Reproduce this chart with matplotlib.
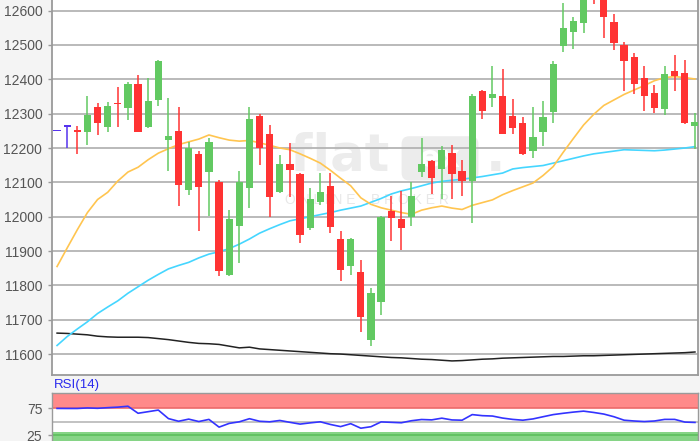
import numpy as np
import matplotlib
matplotlib.use("Agg")
import matplotlib.pyplot as plt

plt.rcParams["font.family"] = ["Liberation Sans", "DejaVu Sans"]

# --- data (one entry per daily candle) ---
opens = [12249, 12262, 12250, 12248, 12318, 12260, 12332, 12316, 12386, 12260,
         12340, 12222, 12250, 12078, 12183, 12129, 12101, 11830, 11974, 12083,
         12294, 12240, 12071, 12153, 12124, 11967, 12044, 12088, 11935, 11857,
         11839, 11642, 11753, 12017, 11993, 12000, 12129, 12163, 12139, 12185,
         12134, 12105, 12367, 12347, 12352, 12292, 12274, 12190, 12248, 12304,
         12497, 12539, 12565, 12700, 12650, 12568, 12500, 12464, 12405, 12360,
         12313, 12425, 12418, 12265]
highs = [12249, 12268, 12265, 12352, 12332, 12334, 12379, 12393, 12412, 12405,
         12456, 12345, 12319, 12217, 12190, 12229, 12107, 12020, 12132, 12319,
         12299, 12268, 12180, 12214, 12127, 12085, 12127, 12127, 11957, 11938,
         11875, 11792, 12001, 12059, 12076, 12100, 12229, 12165, 12206, 12209,
         12164, 12358, 12368, 12439, 12430, 12342, 12290, 12319, 12337, 12452,
         12623, 12581, 12660, 12720, 12670, 12590, 12510, 12478, 12439, 12384,
         12439, 12471, 12455, 12301]
lows = [12249, 12200, 12183, 12210, 12237, 12248, 12262, 12282, 12246, 12257,
        12322, 12134, 12030, 12064, 11959, 12003, 11826, 11826, 11865, 12025,
        12151, 11998, 12069, 12057, 11923, 11962, 12035, 11952, 11812, 11831,
        11663, 11622, 11715, 11928, 11902, 11972, 12117, 12067, 12051, 12052,
        12059, 11983, 12284, 12319, 12240, 12240, 12180, 12172, 12207, 12274,
        12481, 12489, 12534, 12620, 12520, 12486, 12366, 12358, 12309, 12303,
        12297, 12366, 12270, 12197]
closes = [12249, 12262, 12247, 12296, 12274, 12323, 12328, 12386, 12248, 12337,
          12454, 12236, 12093, 12201, 12086, 12217, 11841, 11994, 12102, 12284,
          12200, 12056, 12153, 12135, 11947, 12051, 12072, 11970, 11846, 11935,
          11707, 11778, 11999, 11996, 11967, 12061, 12153, 12112, 12193, 12124,
          12103, 12350, 12309, 12358, 12241, 12257, 12183, 12232, 12290, 12444,
          12549, 12571, 12645, 12660, 12582, 12505, 12454, 12386, 12352, 12316,
          12416, 12410, 12274, 12277]

ma_fast = [11855, 11909, 11962, 12012, 12050, 12071, 12104, 12130, 12144, 12166,
           12185, 12198, 12210, 12218, 12226, 12238, 12230, 12223, 12220, 12222,
           12215, 12208, 12200, 12195, 12183, 12170, 12156, 12135, 12112, 12090,
           12055, 12036, 12026, 12019, 12012, 12007, 12019, 12026, 12031, 12025,
           12021, 12033, 12041, 12049, 12064, 12076, 12087, 12098, 12120, 12146,
           12188, 12228, 12267, 12298, 12324, 12340, 12356, 12369, 12382, 12396,
           12405, 12408, 12405, 12401]
ma_mid = [11625, 11651, 11673, 11694, 11718, 11737, 11755, 11777, 11796, 11815,
          11832, 11848, 11858, 11867, 11880, 11891, 11898, 11907, 11920, 11935,
          11952, 11965, 11977, 11988, 11994, 12000, 12006, 12012, 12019, 12025,
          12031, 12042, 12053, 12066, 12075, 12082, 12090, 12098, 12103, 12106,
          12109, 12113, 12117, 12122, 12127, 12139, 12143, 12146, 12149, 12156,
          12163, 12170, 12177, 12183, 12187, 12191, 12195, 12194, 12193, 12192,
          12194, 12197, 12200, 12204]
ma_slow = [11661, 11660, 11658, 11656, 11652, 11650, 11649, 11649, 11649, 11648,
           11645, 11642, 11638, 11634, 11631, 11630, 11628, 11623, 11618, 11620,
           11615, 11613, 11611, 11609, 11607, 11605, 11603, 11601, 11600, 11598,
           11596, 11594, 11592, 11590, 11589, 11587, 11585, 11584, 11582, 11580,
           11581, 11583, 11585, 11586, 11588, 11589, 11590, 11591, 11592, 11593,
           11593, 11594, 11595, 11595, 11596, 11597, 11598, 11599, 11600, 11601,
           11602, 11603, 11604, 11606]

rsi = [75.1, 75.0, 75.0, 76.0, 75.3, 76.5, 77.5, 79.2, 66.0, 69.0,
       72.0, 56.0, 51.0, 55.0, 50.5, 54.5, 40.0, 47.0, 50.0, 55.8,
       51.0, 50.0, 52.5, 49.0, 45.7, 48.0, 50.0, 45.0, 41.0, 46.5,
       38.0, 40.8, 49.8, 49.0, 48.2, 52.0, 54.3, 53.6, 56.8, 53.5,
       53.0, 63.5, 61.5, 60.8, 57.0, 54.5, 53.0, 55.4, 59.5, 63.5,
       66.0, 68.2, 70.0, 67.5, 64.5, 59.5, 53.0, 51.5, 50.5, 51.5,
       54.5, 54.5, 49.5, 48.8]

price_ticks = [11600, 11700, 11800, 11900, 12000, 12100, 12200, 12300, 12400, 12500, 12600]
rsi_ticks = [25, 75]

GREEN = "#62c962"
RED = "#ff3333"
DOJI = "#5533ee"
GRID = "#b4b4b4"
SPINE = "#9a9a9a"
TXT = "#555555"

o = np.array(opens, float)
h = np.array(highs, float)
l = np.array(lows, float)
c = np.array(closes, float)
x = np.arange(len(o))
colors = np.where(c > o, GREEN, np.where(c < o, RED, DOJI))

fig = plt.figure(figsize=(7, 4.41), dpi=100, facecolor="#f4f4f4")
ax = fig.add_axes([52 / 700, 1 - 375 / 441, 646 / 700, 375 / 441])
ax_rsi = fig.add_axes([52 / 700, 0, 646 / 700, 48 / 441])

# --- main price panel ---
ax.set_facecolor("white")
ax.set_xlim(-0.5, 63.3)
ax.set_ylim(11539, 12631)
ax.set_yticks(price_ticks)
ax.set_xticks([])
ax.grid(axis="y", color=GRID, lw=1.3, zorder=0)
ax.tick_params(axis="y", length=3, width=1, color=SPINE, labelsize=10, labelcolor=TXT, pad=4)
for side in ["left", "bottom", "right"]:
    ax.spines[side].set_color(SPINE)
    ax.spines[side].set_linewidth(1.3)
ax.spines["top"].set_visible(False)

# watermark
ax.text(0.368, 0.545, "flat", transform=ax.transAxes, fontsize=37, fontweight="bold",
        family="DejaVu Sans", color="#ececec", zorder=1)
ax.text(0.553, 0.555, " ex ", transform=ax.transAxes, fontsize=22, fontweight="bold",
        family="DejaVu Sans", color="white", zorder=1,
        bbox=dict(boxstyle="round,pad=0.25", fc="#ececec", ec="none"))
ax.text(0.672, 0.545, ".", transform=ax.transAxes, fontsize=37, fontweight="bold",
        family="DejaVu Sans", color="#ececec", zorder=1)
ax.text(0.36, 0.455, "O N L I N E    B R O K E R", transform=ax.transAxes, fontsize=10,
        color="#e8e8e8", zorder=1)

# moving averages
ax.plot(x, ma_slow, color="#222222", lw=1.1, zorder=2)
ax.plot(x, ma_mid, color="#45d6ff", lw=1.2, zorder=2)
ax.plot(x, ma_fast, color="#ffc550", lw=1.2, zorder=2)

# candles
ax.vlines(x, l, h, colors=colors, lw=1.1, zorder=3)
body_lo = np.minimum(o, c)
body_h = np.maximum(np.abs(c - o), 4)
ax.bar(x, body_h, bottom=body_lo, width=0.72, color=colors, lw=0, zorder=4)

# --- RSI panel ---
ax_rsi.set_facecolor("white")
ax_rsi.set_xlim(-0.5, 63.3)
ax_rsi.set_ylim(14, 104)
ax_rsi.axhspan(75, 104, color="#ff8a8a", lw=0, zorder=0)
ax_rsi.axhspan(14, 31, color="#86d486", lw=0, zorder=0)
ax_rsi.axhline(75, color="#ec6a6a", lw=1.2, zorder=1)
ax_rsi.axhline(25, color="#5cbf5c", lw=1.2, zorder=1)
ax_rsi.axhline(50, color="#b8b8b8", lw=1.2, zorder=1)
ax_rsi.plot(x, rsi, color="#3333ff", lw=1.2, zorder=3)
ax_rsi.set_yticks(rsi_ticks)
ax_rsi.set_xticks([])
ax_rsi.tick_params(axis="y", length=3, width=1, color=SPINE, labelsize=10, labelcolor=TXT, pad=4)
for side in ["left", "top", "right"]:
    ax_rsi.spines[side].set_color(SPINE)
    ax_rsi.spines[side].set_linewidth(1.0)
ax_rsi.spines["bottom"].set_visible(False)

fig.text(54 / 700, 1 - 385 / 441, "RSI(14)", color="#2a2aee", fontsize=9.5, va="center")

fig.savefig("out.png", dpi=100, facecolor=fig.get_facecolor())
